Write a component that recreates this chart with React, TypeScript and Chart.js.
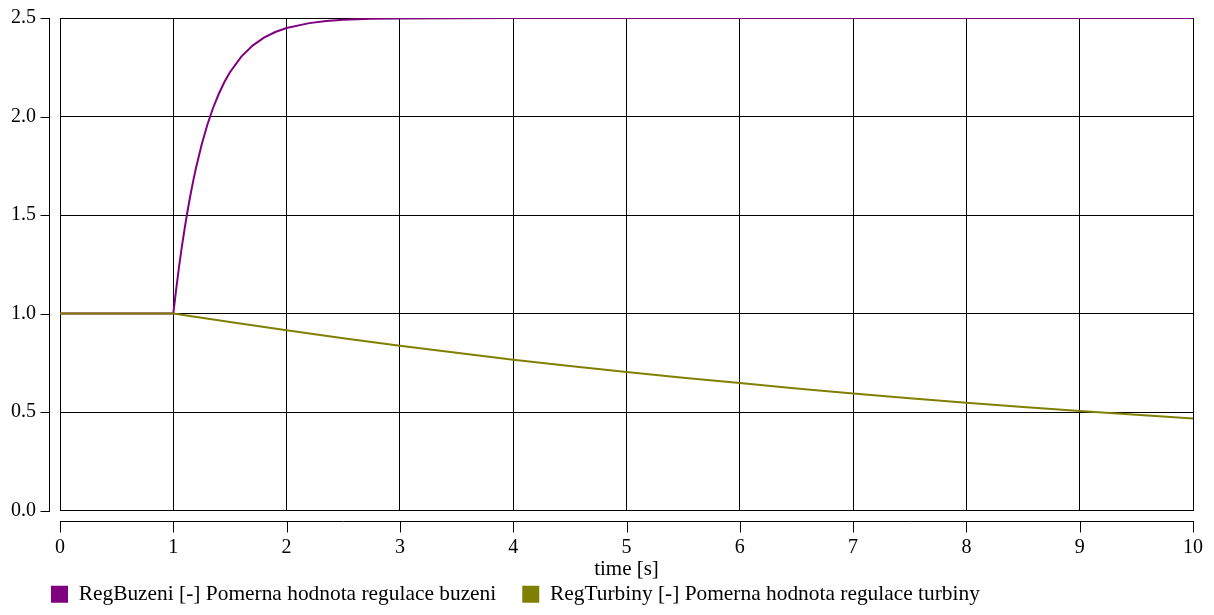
import React, { useEffect, useRef } from "react";
import { Chart, registerables } from "chart.js";

Chart.register(...registerables);

const timeBuzeni = [0, 1, 1.025, 1.05, 1.075, 1.1, 1.125, 1.15, 1.175, 1.2, 1.25, 1.3, 1.35, 1.4, 1.45, 1.5, 1.6, 1.7, 1.8, 1.9, 2.0, 2.2, 2.35, 2.5, 2.75, 3.0, 4, 5, 6, 7, 8, 9, 10];
const valBuzeni = [1.0, 1.0, 1.122, 1.234, 1.337, 1.431, 1.518, 1.598, 1.671, 1.739, 1.857, 1.957, 2.042, 2.113, 2.174, 2.225, 2.304, 2.36, 2.4, 2.429, 2.449, 2.474, 2.485, 2.491, 2.496, 2.498, 2.5, 2.5, 2.5, 2.5, 2.5, 2.5, 2.5];

const timeTurbiny = [0, 1, 1.5, 2, 2.5, 3, 3.5, 4, 4.5, 5, 5.5, 6, 6.5, 7, 7.5, 8, 8.5, 9, 9.5, 10];
const valTurbiny = [1.0, 1.0, 0.957, 0.915, 0.875, 0.837, 0.801, 0.766, 0.734, 0.703, 0.674, 0.647, 0.62, 0.594, 0.57, 0.547, 0.526, 0.506, 0.486, 0.467];

const labelBuzeni = "RegBuzeni [-] Pomerna hodnota regulace buzeni";
const labelTurbiny = "RegTurbiny [-] Pomerna hodnota regulace turbiny";
const xTitle = "time [s]";

const FONT = "'Liberation Serif', 'Times New Roman', serif";

const offsetAxes = {
  id: "offsetAxes",
  afterLayout(chart: any) {
    if (chart.legend) {
      chart.legend.left += 25;
      chart.legend.right += 25;
    }
  },
  afterDraw(chart: any) {
    const { ctx, chartArea, scales } = chart;
    const x = scales.x;
    const y = scales.y;
    ctx.save();
    ctx.strokeStyle = "#000";
    ctx.lineWidth = 1;
    const ax = Math.round(chartArea.left - 11) + 0.5;
    ctx.beginPath();
    ctx.moveTo(ax, Math.round(y.getPixelForValue(y.max)));
    ctx.lineTo(ax, Math.round(y.getPixelForValue(y.min)) + 1);
    y.ticks.forEach((t: any) => {
      const py = Math.round(y.getPixelForValue(t.value)) + 0.5;
      ctx.moveTo(ax - 9, py);
      ctx.lineTo(ax, py);
    });
    const ay = Math.round(chartArea.bottom + 10) + 0.5;
    ctx.moveTo(Math.round(x.getPixelForValue(x.min)), ay);
    ctx.lineTo(Math.round(x.getPixelForValue(x.max)) + 1, ay);
    x.ticks.forEach((t: any) => {
      const px = Math.round(x.getPixelForValue(t.value)) + 0.5;
      ctx.moveTo(px, ay);
      ctx.lineTo(px, ay + 11);
    });
    ctx.stroke();
    ctx.restore();
  },
};

export default function App() {
  const ref = useRef<HTMLCanvasElement>(null);
  useEffect(() => {
    if (!ref.current) return;
    const chart = new Chart(ref.current, {
      type: "line",
      data: {
        datasets: [
          {
            label: labelBuzeni,
            data: timeBuzeni.map((t, i) => ({ x: t, y: valBuzeni[i] })),
            borderColor: "#800080",
            backgroundColor: "#800080",
            borderWidth: 2,
            pointRadius: 0,
            tension: 0,
            order: 1,
          },
          {
            label: labelTurbiny,
            data: timeTurbiny.map((t, i) => ({ x: t, y: valTurbiny[i] })),
            borderColor: "#808000",
            backgroundColor: "#808000",
            borderWidth: 2,
            pointRadius: 0,
            tension: 0,
            order: 0,
          },
        ],
      },
      options: {
        responsive: false,
        animation: false,
        devicePixelRatio: 1,
        layout: { padding: { left: 0, right: 21, top: 18, bottom: 0 } },
        font: { family: FONT },
        plugins: {
          tooltip: { enabled: false },
          legend: {
            position: "bottom",
            align: "start",
            labels: {
              font: { family: FONT, size: 21.4 },
              color: "#000",
              boxWidth: 17,
              boxHeight: 17,
              padding: 26,
              generateLabels: (chart: any) =>
                Chart.defaults.plugins.legend.labels
                  .generateLabels(chart)
                  .map((l: any) => ({ ...l, lineWidth: 0 }))
                  .sort((a: any, b: any) => a.datasetIndex - b.datasetIndex),
            },
          },
        },
        scales: {
          x: {
            type: "linear",
            min: 0,
            max: 10,
            ticks: {
              stepSize: 1,
              padding: 25,
              color: "#000",
              font: { family: FONT, size: 20 },
              maxRotation: 0,
            },
            grid: { color: "#000", lineWidth: 1, drawTicks: false },
            border: { display: true, color: "#000" },
            title: {
              display: true,
              text: xTitle,
              color: "#000",
              font: { family: FONT, size: 21 },
              padding: { top: 0, bottom: -24 },
            },
            afterFit: (s: any) => {
              s.height = 47;
              s.paddingLeft = 0;
              s.paddingRight = 0;
            },
          },
          y: {
            type: "linear",
            min: 0,
            max: 2.5,
            ticks: {
              stepSize: 0.5,
              padding: 24,
              color: "#000",
              font: { family: FONT, size: 20 },
              callback: (v: any) => Number(v).toFixed(1),
            },
            grid: { color: "#000", lineWidth: 1, drawTicks: false },
            border: { display: true, color: "#000" },
            afterFit: (s: any) => {
              s.width = 60;
              s.paddingTop = 0;
              s.paddingBottom = 0;
            },
          },
        },
      },
      plugins: [offsetAxes],
    });
    return () => chart.destroy();
  }, []);
  return (
    <div style={{ position: "fixed", left: 0, top: 0, width: 1214, height: 615, background: "#fff" }}>
      <canvas ref={ref} width={1214} height={615} />
    </div>
  );
}
